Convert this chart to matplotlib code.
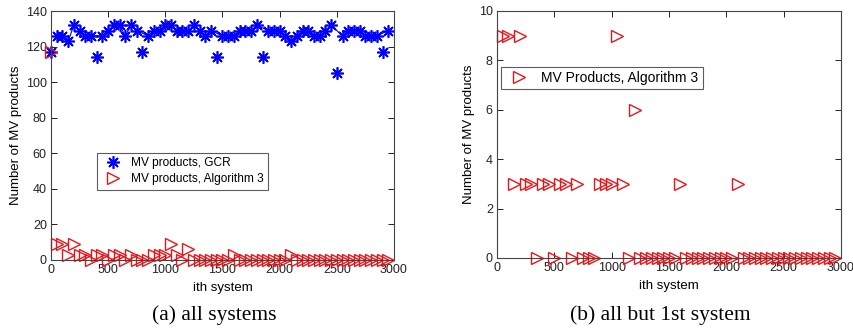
import matplotlib
matplotlib.use("Agg")
import matplotlib.pyplot as plt
import numpy as np

# ith system sample positions
systems = [1] + list(range(50, 3000, 50))

gcr = [117, 126, 126, 123, 132, 129, 126, 126, 114, 126,
       129, 132, 132, 126, 132, 129, 117, 126, 129, 129,
       132, 132, 129, 129, 129, 132, 129, 126, 129, 114,
       126, 126, 126, 129, 129, 129, 132, 114, 129, 129,
       129, 126, 123, 126, 129, 129, 126, 126, 129, 132,
       105, 126, 129, 129, 129, 126, 126, 126, 117, 129]

alg3 = [117, 9, 9, 3, 9, 3, 3, 0, 3, 3,
        0, 3, 3, 0, 3, 0, 0, 0, 3, 3,
        3, 9, 3, 0, 6, 0, 0, 0, 0, 0,
        0, 0, 3, 0, 0, 0, 0, 0, 0, 0,
        0, 0, 3, 0, 0, 0, 0, 0, 0, 0,
        0, 0, 0, 0, 0, 0, 0, 0, 0, 0]

left_yticks = [0, 20, 40, 60, 80, 100, 120, 140]
right_yticks = [0, 2, 4, 6, 8, 10]
xticks = [0, 500, 1000, 1500, 2000, 2500, 3000]

plt.rcParams['font.family'] = ['Liberation Sans', 'DejaVu Sans']

fig = plt.figure(figsize=(8.54, 3.31), dpi=100)
W, H = 854, 331
ax1 = fig.add_axes([51 / W, 1 - 260 / H, (394 - 51) / W, (260 - 11) / H])
ax2 = fig.add_axes([497 / W, 1 - 258 / H, (841 - 497) / W, (258 - 11) / H])

blue = '#0000ff'
red = '#e8161b'
asterisk = (8, 2, 0)

x = np.array(systems)
g = np.array(gcr)
a = np.array(alg3)

# line through regular GCR values
mask = g >= 120
ax1.plot(x[mask], g[mask], '-', color=blue, lw=0.8)
ax1.plot(x, g, linestyle='none', marker=asterisk, color=blue, markersize=9,
         markeredgewidth=1.2, label='MV products, GCR')
ax1.plot(x, a, linestyle='none', marker='>', color=red, mfc='none',
         markersize=9, markeredgewidth=1.0, label='MV products, Algorithm 3')
ax1.set_xlim(0, 3000)
ax1.set_ylim(0, 140)
ax1.set_yticks(left_yticks)
ax1.set_xticks(xticks)
ax1.set_ylabel('Number of MV products', fontsize=9.5, labelpad=3)
ax1.set_xlabel('ith system', fontsize=9.5, labelpad=4)
leg1 = ax1.legend(loc='upper left', bbox_to_anchor=((97 - 51) / 343, (260 - 153) / 249),
                  fontsize=8.6, frameon=True, fancybox=False, edgecolor='#333333',
                  borderpad=0.35, handletextpad=0.5, labelspacing=0.35, borderaxespad=0)
leg1.get_frame().set_linewidth(0.8)

x2 = x[1:]
a2 = a[1:]
ax2.plot(x2, a2, linestyle='none', marker='>', color=red, mfc='none',
         markersize=9, markeredgewidth=1.0, label='MV Products, Algorithm 3')
ax2.set_xlim(0, 3000)
ax2.set_ylim(0, 10)
ax2.set_yticks(right_yticks)
ax2.set_xticks(xticks)
ax2.set_ylabel('Number of MV products', fontsize=9.5, labelpad=3)
ax2.set_xlabel('ith system', fontsize=9.5, labelpad=4)
leg2 = ax2.legend(loc='upper left', bbox_to_anchor=((501 - 497) / 344, (258 - 67) / 247),
                  fontsize=10, frameon=True, fancybox=False, edgecolor='#333333',
                  borderpad=0.3, handletextpad=0.6, borderaxespad=0)
leg2.get_frame().set_linewidth(0.8)

for ax in (ax1, ax2):
    ax.tick_params(direction='in', top=True, right=True, labelsize=9,
                   length=4, width=0.7, pad=3, colors='#222222')
    for s in ax.spines.values():
        s.set_linewidth(0.8)
        s.set_color('#444444')
    for ln in ax.get_lines():
        ln.set_clip_on(False)

fig.text(214 / W, 1 - 315 / H, '(a) all systems', ha='center', va='center',
         fontsize=15.5, family=['Liberation Serif', 'DejaVu Serif'])
fig.text(660 / W, 1 - 315 / H, '(b) all but 1st system', ha='center', va='center',
         fontsize=15.5, family=['Liberation Serif', 'DejaVu Serif'])

fig.savefig('out.png', dpi=100)
